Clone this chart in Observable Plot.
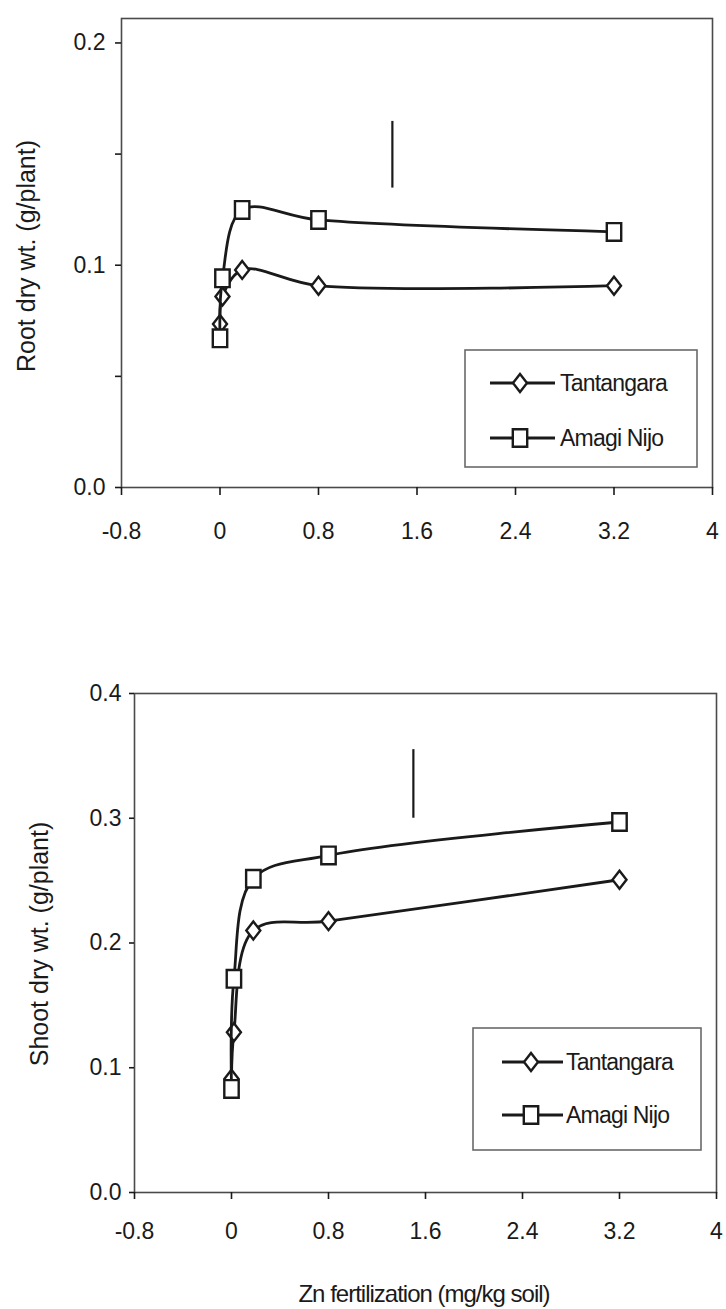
<!DOCTYPE html>
<html>
<head>
<meta charset="utf-8">
<script src="https://cdn.jsdelivr.net/npm/d3@7"></script>
<script src="https://cdn.jsdelivr.net/npm/@observablehq/plot@0.6"></script>
<style>
  html, body { margin: 0; padding: 0; background: #fff; }
  #page { position: relative; width: 726px; height: 1309px; overflow: hidden;
          font-family: "Liberation Sans", Arial, sans-serif; }
  #root, #shoot { position: absolute; left: 0; }
  #root { top: 0; }
  #shoot { top: 660px; }
</style>
</head>
<body>
<div id="page">
  <div id="root"></div>
  <div id="shoot"></div>
</div>
<script>
// Zn fertilization rates (mg/kg soil)
const znRate = [0, 0.02, 0.18, 0.8, 3.2];
const cultivars = ["Tantangara", "Amagi Nijo"];

// Root dry weight (g/plant)
const rootTantangara = [0.0736, 0.0859, 0.0979, 0.0908, 0.0908];
const rootAmagiNijo  = [0.0671, 0.0941, 0.1249, 0.1204, 0.1150];

// Shoot dry weight (g/plant)
const shootTantangara = [0.0912, 0.1284, 0.2100, 0.2175, 0.2507];
const shootAmagiNijo  = [0.0830, 0.1713, 0.2515, 0.2702, 0.2970];

// LSD bars
const rootLsd  = [{x: 1.4, low: 0.1347, high: 0.1647}];
const shootLsd = [{x: 1.5, low: 0.300, high: 0.355}];

// Axis ticks and their labels
const xTicks      = [-0.8, 0, 0.8, 1.6, 2.4, 3.2, 4];
const xTickLabels = ["-0.8", "0", "0.8", "1.6", "2.4", "3.2", "4"];
const rootYTicks  = [0, 0.05, 0.1, 0.15, 0.2];
const rootYLabels = ["0.0", "", "0.1", "", "0.2"];
const shootYTicks  = [0, 0.1, 0.2, 0.3, 0.4];
const shootYLabels = ["0.0", "0.1", "0.2", "0.3", "0.4"];

const ink = "#1a1a1a";
const font = "Liberation Sans, Arial, sans-serif";

// Open marker shapes (slightly taller than wide)
const diamondSym = {
  draw(ctx, size) {
    const k = Math.sqrt(size) / 14, w = 7 * k, h = 9 * k;
    ctx.moveTo(0, -h); ctx.lineTo(w, 0); ctx.lineTo(0, h); ctx.lineTo(-w, 0); ctx.closePath();
  }
};
const squareSym = {
  draw(ctx, size) {
    const k = Math.sqrt(size) / 14, w = 7.2 * k, h = 8.8 * k;
    ctx.rect(-w, -h, 2 * w, 2 * h);
  }
};
const markerR = 14 / Math.sqrt(Math.PI);
const symbols = [diamondSym, squareSym];

const lookup = (keys, labels) => { const m = new Map(keys.map((k, i) => [k, labels[i]])); return d => m.get(d) ?? ""; };

function panel(o) {
  const series = [o.tant, o.amagi].map((vals, s) =>
    znRate.map((x, i) => ({x, y: vals[i], cultivar: cultivars[s]})));
  const marks = [
    Plot.frame({stroke: "#4a4a4a", strokeWidth: 1.6}),
    Plot.axisX({ticks: xTicks, tickFormat: lookup(xTicks, xTickLabels), tickSize: o.xTickSize,
                tickPadding: o.xTickPad, label: null, strokeWidth: 1.6, fontSize: 23}),
    Plot.axisY({ticks: o.yTicks, tickFormat: lookup(o.yTicks, o.yLabels), tickSize: o.yTickSize,
                tickPadding: o.yTickPad, label: null, strokeWidth: 1.6, fontSize: 23}),
    Plot.ruleX(o.lsd, {x: "x", y1: "low", y2: "high", stroke: ink, strokeWidth: 2.2})
  ];
  series.forEach((rows, s) => {
    marks.push(Plot.line(rows, {x: "x", y: "y", curve: "catmull-rom", stroke: ink, strokeWidth: 2.8}));
    marks.push(Plot.dot(rows, {x: "x", y: "y", symbol: symbols[s], r: markerR, fill: "white",
                               stroke: ink, strokeWidth: 2.4}));
  });
  const svg = Plot.plot({
    width: 726, height: o.height,
    marginTop: o.mt, marginBottom: o.mb, marginLeft: o.ml, marginRight: o.mr,
    style: {fontFamily: font, fontSize: "23px", color: ink, background: "transparent", overflow: "visible"},
    x: {domain: [-0.8, 4], label: null},
    y: {domain: o.yDomain, label: null},
    marks
  });
  const root = d3.select(svg);

  // y-axis title
  root.append("text")
    .attr("transform", `translate(${o.titleX},${o.titleY}) rotate(-90)`)
    .attr("text-anchor", "middle").attr("font-family", font).attr("font-size", 25)
    .attr("fill", ink).text(o.title);

  // legend box
  const L = o.legend;
  const g = root.append("g").attr("text-anchor", "start");
  g.append("rect").attr("x", L.x0).attr("y", L.y0).attr("width", L.x1 - L.x0).attr("height", L.y1 - L.y0)
    .attr("fill", "white").attr("stroke", "#6a6a6a").attr("stroke-width", 1.6);
  cultivars.forEach((name, s) => {
    const y = L.rows[s];
    g.append("line").attr("x1", L.lx0).attr("x2", L.lx1).attr("y1", y).attr("y2", y)
      .attr("stroke", ink).attr("stroke-width", 3);
    g.append("path").attr("d", d3.symbol(symbols[s], 196)())
      .attr("transform", `translate(${L.mx},${y})`)
      .attr("fill", "white").attr("stroke", ink).attr("stroke-width", 2.4);
    g.append("text").attr("x", L.tx).attr("y", y).attr("dy", "0.35em")
      .attr("text-anchor", "start")
      .attr("font-family", font).attr("font-size", 23).attr("letter-spacing", "-0.8px")
      .attr("fill", ink).text(name);
  });
  return svg;
}

const rootSvg = panel({
  tant: rootTantangara, amagi: rootAmagiNijo, lsd: rootLsd,
  yDomain: [0, 0.211], yTicks: rootYTicks, yLabels: rootYLabels,
  height: 560, mt: 18, mb: 73, ml: 121, mr: 14,
  xTickSize: 8, xTickPad: 27, yTickSize: 6, yTickPad: 10,
  title: "Root dry wt. (g/plant)", titleX: 35, titleY: 256,
  legend: {x0: 465, x1: 697, y0: 350, y1: 467, rows: [383, 438], lx0: 490, lx1: 555, mx: 520, tx: 560}
});
document.getElementById("root").appendChild(rootSvg);

const shootSvg = panel({
  tant: shootTantangara, amagi: shootAmagiNijo, lsd: shootLsd,
  yDomain: [0, 0.4], yTicks: shootYTicks, yLabels: shootYLabels,
  height: 649, mt: 33, mb: 117, ml: 134, mr: 10,
  xTickSize: 7, xTickPad: 23, yTickSize: 5, yTickPad: 8,
  title: "Shoot dry wt. (g/plant)", titleX: 48, titleY: 284,
  legend: {x0: 473, x1: 701, y0: 368, y1: 490, rows: [402, 455], lx0: 502, lx1: 563, mx: 531, tx: 566}
});
// x-axis title under the lower panel
d3.select(shootSvg).append("text")
  .attr("x", 424).attr("y", 642).attr("text-anchor", "middle")
  .attr("font-family", font).attr("font-size", 24).attr("letter-spacing", "-1px")
  .attr("fill", ink).text("Zn fertilization (mg/kg soil)");
document.getElementById("shoot").appendChild(shootSvg);
</script>
</body>
</html>
